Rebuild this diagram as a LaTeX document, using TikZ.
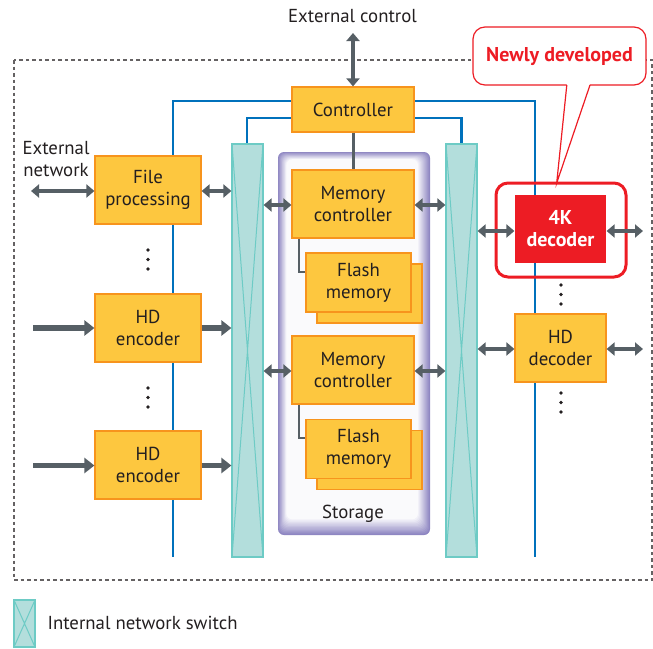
\documentclass[tikz,border=0pt]{standalone}
\usepackage{fontspec}
\setmainfont{PT Sans}
\usetikzlibrary{arrows.meta,calc}
\definecolor{boxfill}{HTML}{FDC73F}
\definecolor{boxline}{HTML}{F7941D}
\definecolor{swfill}{HTML}{B3DEDC}
\definecolor{swline}{HTML}{6DCBC5}
\definecolor{busblue}{HTML}{0071BC}
\definecolor{arrowgray}{HTML}{565F65}
\definecolor{newred}{HTML}{ED1C24}
\definecolor{purp}{HTML}{8E86C2}
\definecolor{ink}{HTML}{231F20}
\pgfdeclarelayer{bg}
\pgfsetlayers{bg,main}
\tikzset{
  lbl/.style={font=\fontsize{18.8}{22}\selectfont, text=ink},
  boldlbl/.style={font=\fontsize{20}{22}\selectfont\bfseries},
  blk/.style={draw=boxline, fill=boxfill, line width=1.2pt, inner sep=0pt,
    align=center, lbl, minimum width=106pt, minimum height=68pt},
  switchbox/.style={draw=swline, fill=swfill, line width=1.2pt, inner sep=0pt,
    path picture={\draw[swline, line width=1pt]
      (path picture bounding box.north west) -- (path picture bounding box.south east)
      (path picture bounding box.north east) -- (path picture bounding box.south west);}},
  biarrow/.style={line width=4.5pt, draw=arrowgray,
    {Triangle[length=8pt,width=13pt]}-{Triangle[length=8pt,width=13pt]}},
  inarrow/.style={line width=5.5pt, draw=arrowgray, -{Triangle[length=10pt,width=15pt]}},
  bus/.style={draw=busblue, line width=2.2pt},
  link/.style={draw=arrowgray, line width=2.2pt},
  dot/.style={circle, fill=ink, inner sep=0pt, minimum size=3.6pt},
}
\begin{document}
\begin{tikzpicture}[x=1pt,y=-1pt]
\useasboundingbox (0,0) rectangle (653,648);

% system boundary
\draw[ink!70, line width=1.4pt, dash pattern=on 3.5pt off 3pt] (14,60) rectangle (652,580);

% storage enclosure with soft purple edge
\foreach \i [evaluate=\i as \p using 100-\i*8] in {0,...,12}
  \fill[purp!\p!white, rounded corners=6pt]
    (278+0.7*\i,152+0.6*\i) rectangle (430-1.0*\i,535-1.3*\i);
\node[lbl] (storage) at (353,514) {Storage};

% blocks
\node[blk, minimum width=122pt, minimum height=45pt] (ctrl) at (353,109.5) {Controller};
\node[blk] (fp) at (148,190) {File\\processing};
\node[blk] (enc1) at (148,328) {HD\\encoder};
\node[blk] (enc2) at (148,465) {HD\\encoder};
\node[blk, minimum width=122pt] (mc1) at (353,204) {Memory\\controller};
\node[blk, minimum width=122pt] (mc2) at (353,370) {Memory\\controller};
\node[blk, minimum width=105pt, minimum height=59pt] (fl1b) at (369.5,293.5) {};
\node[blk, minimum width=105pt, minimum height=59pt] (fl1) at (358.5,282.5) {Flash\\memory};
\node[blk, minimum width=105pt, minimum height=59pt] (fl2b) at (369.5,460) {};
\node[blk, minimum width=105pt, minimum height=59pt] (fl2) at (358.5,449) {Flash\\memory};
\node[blk, draw=none, fill=newred, text=white, boldlbl,
  minimum width=91pt] (k4) at (560.5,229) {4K\\decoder};
\node[blk, minimum width=91pt] (hddec) at (560.5,348) {HD\\decoder};

% internal network switches
\node[switchbox, minimum width=31pt, minimum height=413pt] (lsw) at (247.5,350.5) {};
\node[switchbox, minimum width=31pt, minimum height=413pt] (rsw) at (461.5,350.5) {};

% highlight of the new decoder
\node[draw=newred, line width=3pt, rounded corners=12pt, minimum width=130pt,
  minimum height=94pt] (newfrm) at (561,230) {};
\node[draw=newred, fill=white, line width=1.2pt, rounded corners=12pt, minimum width=173pt,
  minimum height=58pt, text=newred, boldlbl]
  (callout) at (559.5,56) {Newly developed};
\coordinate (tl) at (566.8,85);
\coordinate (tr) at (590,85);
\coordinate (tip) at (556.7,183);
\fill[white] ($(tl)+(0,-1.2)$) -- (tip) -- ($(tr)+(0,-1.2)$) -- cycle;
\draw[newred, line width=1.2pt] (tl) -- (tip) -- (tr);

% control buses
\coordinate (ya) at (0,101);
\coordinate (yb) at (0,118);
\coordinate (lbusend) at (173,557);
\coordinate (rbusend) at (535,557);
\begin{pgfonlayer}{bg}
\draw[bus] (ctrl.west |- ya) -| (lbusend);
\draw[bus] (ctrl.east |- ya) -| (rbusend);
\draw[bus] (ctrl.west |- yb) -| (lsw.north -| 247,0);
\draw[bus] (ctrl.east |- yb) -| (rsw.north -| 461.5,0);
\end{pgfonlayer}

% controller to memory controller, memory controllers to flash
\draw[link, line width=3pt] (ctrl.south) -- (mc1.north);
\draw[link] (mc1.south -| 299,0) |- (fl1.west |- 0,272);
\draw[link] (mc2.south -| 299,0) |- (fl2.west |- 0,438);

% data paths
\coordinate (extnet) at (31,191);
\coordinate (extctl) at (353,33);
\coordinate (in1) at (33,328);
\coordinate (in2) at (33,465.5);
\coordinate (out1) at (643,231);
\coordinate (out2) at (643,349);
\draw[biarrow] (extnet) -- (fp.west |- extnet);
\draw[biarrow] (fp.east |- extnet) -- (lsw.west |- extnet);
\draw[biarrow] (extctl) -- (ctrl.north);
\draw[inarrow] (in1) -- (enc1.west |- in1);
\draw[inarrow] (enc1.east |- in1) -- (lsw.west |- in1);
\draw[inarrow] (in2) -- (enc2.west |- in2);
\draw[inarrow] (enc2.east |- in2) -- (lsw.west |- in2);
\draw[biarrow] (lsw.east |- 0,205) -- (mc1.west |- 0,205);
\draw[biarrow] (lsw.east |- 0,371) -- (mc2.west |- 0,371);
\draw[biarrow] (mc1.east |- 0,205) -- (rsw.west |- 0,205);
\draw[biarrow] (mc2.east |- 0,371) -- (rsw.west |- 0,371);
\draw[biarrow] (rsw.east |- out1) -- (k4.west |- out1);
\draw[biarrow] (k4.east |- out1) -- (out1);
\draw[biarrow] (rsw.east |- out2) -- (hddec.west |- out2);
\draw[biarrow] (hddec.east |- out2) -- (out2);

% continuation dots
\foreach \y [count=\n] in {250,259.5,269} \node[dot] (da\n) at (148,\y) {};
\foreach \y [count=\n] in {388,397.5,407} \node[dot] (db\n) at (148,\y) {};
\foreach \y [count=\n] in {285,294.5,304} \node[dot] (dc\n) at (561,\y) {};
\foreach \y [count=\n] in {393,402.5,412} \node[dot] (dd\n) at (561,\y) {};

% labels
\node[lbl] (extctltxt) at (352.5,16) {External control};
\node[lbl, align=center] (extnettxt) at (56,159) {External\\network};

% legend
\node[switchbox, minimum width=21pt, minimum height=47pt] (legsw) at (24.5,623.5) {};
\node[lbl, anchor=west] (legtxt) at (44,623) {Internal network switch};
\end{tikzpicture}
\end{document}
